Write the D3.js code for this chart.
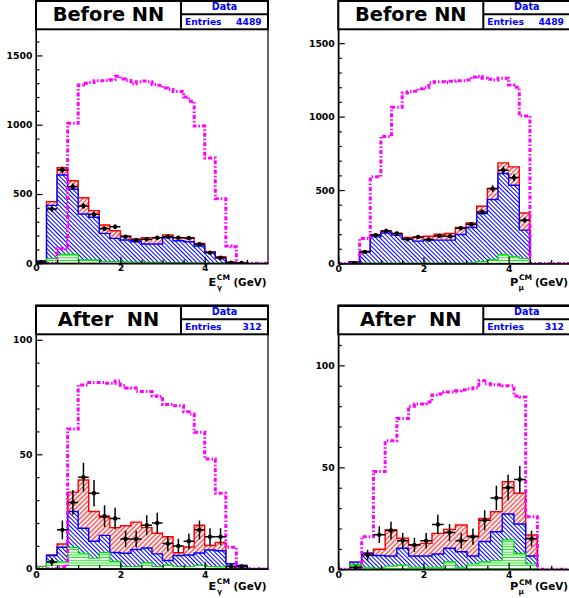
<!DOCTYPE html>
<html><head><meta charset="utf-8">
<script src="https://cdn.jsdelivr.net/npm/d3@7"></script>
<style>
body{margin:0;background:#fff;}
svg{display:block;}
text{font-family:"DejaVu Sans",sans-serif;font-weight:bold;}
</style></head><body>
<svg id="c" width="569" height="598"></svg>
<script>
// ---------------- DATA ----------------
const histBinWidths = [0.25, 0.25, 0.25, 0.275];
const magentaBinWidths = [0.125, 0.125, 0.125, 0.1375];
const titles = ["Before NN", "Before NN", "After\u00A0 NN", "After\u00A0 NN"];
const statsLabel = "Data";
const entries = [4489, 4489, 312, 312];
const axisVar = [["E", "\u03B3"], ["P", "\u03BC"], ["E", "\u03B3"], ["P", "\u03BC"]];
const xTicks = [0, 2, 4];
const xMinor = [0.5, 1, 1.5, 2.5, 3, 3.5, 4.5, 5];
const yTicksBefore = [0, 500, 1000, 1500];
const yTicksAfter = [0, 50, 100];

// Panel 1: E_gamma, before NN (0.25 GeV bins)
const egBeforeRed   = [17, 445, 690, 596, 473, 380, 276, 235, 197, 175, 185, 185, 204, 185, 185, 144, 84, 48, 8, 0, 0, 0];
const egBeforeBlue  = [15, 418, 637, 534, 356, 332, 216, 180, 168, 156, 139, 139, 185, 163, 156, 125, 77, 40, 5, 0, 0, 0];
const egBeforeGreen = [0, 36, 65, 65, 24, 24, 13, 13, 10, 8, 6, 6, 5, 5, 4, 3, 2, 1, 0, 0, 0, 0];
const egBeforeData  = [10, 392, 673, 553, 413, 353, 250, 264, 192, 168, 173, 185, 192, 185, 183, 137, 77, 40, 5, 2, 0, 0];
const egBeforeMagenta = [0, 0, 0, 0, 105, 105, 1010, 1010, 1286, 1300, 1305, 1318, 1318, 1320, 1325, 1350,
  1330, 1320, 1295, 1310, 1315, 1310, 1290, 1285, 1265, 1255, 1240, 1240, 1200, 1170, 990, 990,
  760, 760, 465, 465, 125, 120, 0, 0, 0, 0, 0, 0];

// Panel 2: P_mu, before NN (0.25 GeV bins)
const pmBeforeRed   = [0, 12, 83, 197, 222, 204, 177, 177, 186, 199, 204, 245, 276, 390, 510, 685, 658, 344, 0, 0, 0, 0];
const pmBeforeBlue  = [0, 11, 79, 181, 208, 193, 165, 152, 159, 159, 159, 197, 245, 340, 436, 613, 533, 227, 0, 0, 0, 0];
const pmBeforeGreen = [0, 0, 2, 3, 3, 3, 3, 3, 3, 3, 3, 3, 5, 13, 27, 61, 45, 34, 0, 0, 0, 0];
const pmBeforeData  = [0, 2, 79, 193, 222, 204, 165, 181, 163, 188, 186, 240, 267, 351, 510, 635, 585, 295, 0, 0, 0, 0];
const pmBeforeMagenta = [0, 0, 0, 0, 170, 170, 590, 590, 865, 865, 1063, 1063, 1160, 1170, 1172, 1190,
  1198, 1230, 1238, 1238, 1232, 1240, 1245, 1245, 1250, 1270, 1275, 1262, 1255, 1250, 1262, 1262,
  1215, 1200, 1005, 1005, 0, 0, 0, 0, 0, 0, 0, 0];

// Panel 3: E_gamma, after NN (0.25 GeV bins)
const egAfterRed   = [1, 6, 10.8, 33.5, 38.8, 25, 22.4, 18, 18.8, 20.4, 18, 15.5, 14, 7, 9.5, 19, 10.2, 11.5, 2.2, 1.5, 0, 0];
const egAfterBlue  = [0, 5.8, 9.4, 25, 17.7, 12, 14.6, 7.1, 6.8, 8.4, 9.1, 6.5, 3.6, 5.8, 6, 6.9, 8.2, 7.9, 2.2, 1.5, 0, 0];
const egAfterGreen = [1, 3, 3, 9.4, 6.8, 4.6, 7.1, 3.2, 1, 1, 2.6, 1, 1.6, 1, 1, 1.5, 1, 0.8, 0, 0, 0, 0];
const egAfterData  = [0, 3, 17, 29, 40, 33, 23, 22, 13, 13, 19, 20, 11, 10, 12, 17, 14, 14, 1, 1, 0, 0];
const egAfterMagenta = [0, 0, 0, 0, 1, 1, 61, 61, 80.3, 80.3, 81.4, 81.4, 81.4, 81, 81, 82,
  80, 79, 78.9, 77.4, 77.4, 77.4, 75.5, 75.2, 71.8, 71.8, 71.2, 71.2, 68.6, 67.6, 59.6, 59.6,
  48, 48, 33, 33, 9.4, 9.4, 0, 0, 0, 0, 0, 0];

// Panel 4: P_mu, after NN (0.275 GeV bins)
const pmAfterRed   = [0, 3.5, 8, 9.8, 19.3, 15.2, 11.9, 12.7, 17.6, 19.6, 21.7, 16.3, 24.9, 28.2, 43, 37.3, 16.8, 0, 0, 0];
const pmAfterBlue  = [0, 3.5, 7.8, 6.8, 6.5, 10.3, 6.5, 6.5, 7.5, 10.3, 8.6, 6.5, 13.6, 18.4, 27.1, 22.2, 6.5, 0, 0, 0];
const pmAfterGreen = [0, 2.4, 1, 0.5, 1.6, 2, 1, 1, 1, 3.6, 1, 2.6, 3.6, 4.2, 14.4, 7.8, 2.6, 0, 0, 0];
const pmAfterData  = [0, 1, 7, 17, 19, 14, 12, 14, 22, 18, 14, 16, 24, 35, 40, 44, 15, 0, 0, 0];
const pmAfterMagenta = [0, 0, 0, 0, 16, 16, 48, 48, 63, 63, 74, 74, 80, 81, 81, 82,
  85.5, 86, 87, 87, 87.5, 88, 88.5, 89, 92.5, 91, 90.5, 90.5, 90, 90, 85, 84.5,
  25.8, 25.8, 0, 0, 0, 0, 0, 0];

// ---------------- LAYOUT ----------------
const layout = [
  {x0: 36, x1: 268, yt: 0, yb: 263.3, ymax: 1900, minorStep: 100, titleTop: 0, lblPad: 1.5, titleDy: 22.5},
  {x0: 338.3, x1: 572.5, yt: 0, yb: 263.5, ymax: 1794, minorStep: 100, titleTop: 0, lblPad: 1.5, titleDy: 22.5},
  {x0: 36, x1: 268, yt: 305, yb: 568.8, ymax: 115.2, minorStep: 10, titleTop: 305, lblPad: 2.5, titleDy: 21},
  {x0: 338.3, x1: 572.5, yt: 305, yb: 569.3, ymax: 129.6, minorStep: 10, titleTop: 305, lblPad: 2.5, titleDy: 21}
];
const panelData = [
  {red: egBeforeRed, blue: egBeforeBlue, green: egBeforeGreen, data: egBeforeData, mag: egBeforeMagenta, yTicks: yTicksBefore},
  {red: pmBeforeRed, blue: pmBeforeBlue, green: pmBeforeGreen, data: pmBeforeData, mag: pmBeforeMagenta, yTicks: yTicksBefore},
  {red: egAfterRed, blue: egAfterBlue, green: egAfterGreen, data: egAfterData, mag: egAfterMagenta, yTicks: yTicksAfter},
  {red: pmAfterRed, blue: pmAfterBlue, green: pmAfterGreen, data: pmAfterData, mag: pmAfterMagenta, yTicks: yTicksAfter}
];

const svg = d3.select("#c");
const defs = svg.append("defs");
function hatch(id, color, size, angle, sw) {
  const p = defs.append("pattern").attr("id", id).attr("patternUnits", "userSpaceOnUse")
    .attr("width", size).attr("height", size).attr("patternTransform", `rotate(${angle})`);
  p.append("line").attr("x1", size / 2).attr("y1", -1).attr("x2", size / 2).attr("y2", size + 1)
    .attr("stroke", color).attr("stroke-width", sw);
}
hatch("hRed", "#ff0000", 3.4, 45, 1);
hatch("hBlue", "#0000ff", 3.0, -45, 1);
hatch("hGreen", "#00ee00", 2.7, 90, 0.9);

function stepPts(vals, w) {
  const first = vals.findIndex(v => v > 0);
  let last = vals.length - 1;
  while (last >= 0 && !(vals[last] > 0)) last--;
  const pts = [[first * w, 0]];
  for (let i = first; i <= last; i++) { pts.push([i * w, vals[i]]); pts.push([(i + 1) * w, vals[i]]); }
  pts.push([(last + 1) * w, 0]);
  return pts;
}
function fullStepPts(vals, w) {
  const pts = [];
  vals.forEach((v, i) => { pts.push([i * w, v]); pts.push([(i + 1) * w, v]); });
  return pts;
}
const fmt = d3.format("d");

layout.forEach((L, k) => {
  const D = panelData[k];
  const w = histBinWidths[k], mw = magentaBinWidths[k];
  const x = d3.scaleLinear().domain([0, 5.5]).range([L.x0, L.x1]);
  const y = d3.scaleLinear().domain([0, L.ymax]).range([L.yb, L.yt]);
  const line = d3.line().x(d => x(d[0])).y(d => y(d[1]));
  const g = svg.append("g");
  defs.append("clipPath").attr("id", "clip" + k).append("rect")
    .attr("x", L.x0).attr("y", L.yt).attr("width", L.x1 - L.x0).attr("height", L.yb - L.yt);
  const plot = g.append("g").attr("clip-path", `url(#clip${k})`);

  [[D.red, "hRed", "#ff0000", 1.4], [D.blue, "hBlue", "#0000ff", 1.4], [D.green, "hGreen", "#00dd00", 1.2]]
    .forEach(([vals, pat, col, sw]) => {
      const pts = stepPts(vals, w);
      const dstr = line(pts) + "Z";
      plot.append("path").attr("d", dstr).attr("fill", "#fff");
      plot.append("path").attr("d", dstr).attr("fill", `url(#${pat})`);
      plot.append("path").attr("d", line(pts)).attr("fill", "none").attr("stroke", col).attr("stroke-width", sw);
    });

  plot.append("path").attr("d", line(fullStepPts(D.mag, mw))).attr("fill", "none")
    .attr("stroke", "#ff00ff").attr("stroke-width", 3).attr("stroke-dasharray", "4,2,1.5,2");

  const pts = D.data.map((v, i) => ({v, i})).filter(d => d.v > 0);
  const dp = plot.append("g").attr("stroke", "#000").attr("stroke-width", 1.5);
  dp.selectAll("line.h").data(pts).join("line")
    .attr("x1", d => x(d.i * w)).attr("x2", d => x((d.i + 1) * w))
    .attr("y1", d => y(d.v)).attr("y2", d => y(d.v));
  dp.selectAll("line.v").data(pts).join("line")
    .attr("x1", d => x((d.i + 0.5) * w)).attr("x2", d => x((d.i + 0.5) * w))
    .attr("y1", d => y(d.v - Math.sqrt(d.v))).attr("y2", d => y(d.v + Math.sqrt(d.v)));
  plot.append("g").selectAll("circle").data(pts).join("circle")
    .attr("cx", d => x((d.i + 0.5) * w)).attr("cy", d => y(d.v)).attr("r", 2.2).attr("fill", "#000");

  // frame
  g.append("rect").attr("x", L.x0).attr("y", L.yt).attr("width", L.x1 - L.x0).attr("height", L.yb - L.yt)
    .attr("fill", "none").attr("stroke", "#000").attr("stroke-width", 1.2);

  // y axis
  const yMinor = d3.range(0, L.ymax, L.minorStep).filter(v => !D.yTicks.includes(v));
  const ya = g.append("g").attr("transform", `translate(${L.x0},0)`)
    .call(d3.axisLeft(y).tickValues(D.yTicks).tickFormat(fmt).tickSizeInner(-6.5).tickSizeOuter(0).tickPadding(3.5));
  const yam = g.append("g").attr("transform", `translate(${L.x0},0)`)
    .call(d3.axisLeft(y).tickValues(yMinor).tickSizeInner(-3.5).tickSizeOuter(0).tickFormat(""));
  [ya, yam].forEach(a => { a.select(".domain").attr("stroke", "#000"); a.selectAll("line").attr("stroke", "#000").attr("stroke-width", 1.2); });
  ya.selectAll("text").attr("font-family", "DejaVu Sans").attr("font-weight", "bold").attr("font-size", 9.3).attr("fill", "#000");

  // x axis
  const xa = g.append("g").attr("transform", `translate(0,${L.yb})`)
    .call(d3.axisBottom(x).tickValues(xTicks).tickFormat(fmt).tickSizeInner(-6.5).tickSizeOuter(0).tickPadding(L.lblPad));
  const xam = g.append("g").attr("transform", `translate(0,${L.yb})`)
    .call(d3.axisBottom(x).tickValues(xMinor).tickSizeInner(-3.5).tickSizeOuter(0).tickFormat(""));
  [xa, xam].forEach(a => { a.select(".domain").attr("stroke", "#000"); a.selectAll("line").attr("stroke", "#000").attr("stroke-width", 1.2); });
  xa.selectAll("text").attr("font-family", "DejaVu Sans").attr("font-weight", "bold").attr("font-size", 9.3).attr("fill", "#000");

  // x axis title: one text element with tspans (sub/superscript after the letter)
  const tb = L.yb + L.titleDy;
  const tEnd = Math.min(L.x1 - 1.5, 568);
  const tx = tEnd - 58;
  const t = g.append("text").attr("x", tx).attr("y", tb).attr("font-size", 11.3);
  t.append("tspan").text(axisVar[k][0]);
  t.append("tspan").attr("dx", 0.6).attr("dy", -5.8).attr("font-size", 7.6).text("CM");
  t.append("tspan").attr("x", tx + 8.4).attr("dy", 9.8).attr("font-size", 7.3).text(axisVar[k][1]);
  t.append("tspan").attr("x", tEnd).attr("dy", -4).attr("text-anchor", "end").attr("font-size", 10.4).text("(GeV)");

  // title box + stats box
  const T = L.titleTop, bh = 29.3, split = L.x0 + 145;
  g.append("rect").attr("x", L.x0).attr("y", T + 1).attr("width", L.x1 - L.x0).attr("height", bh - 1)
    .attr("fill", "#fff").attr("stroke", "#000").attr("stroke-width", 2);
  g.append("line").attr("x1", split).attr("x2", split).attr("y1", T).attr("y2", T + bh).attr("stroke", "#000").attr("stroke-width", 2);
  g.append("line").attr("x1", split).attr("x2", L.x1).attr("y1", T + 14.3).attr("y2", T + 14.3).attr("stroke", "#000").attr("stroke-width", 2);
  g.append("text").attr("x", (L.x0 + split) / 2).attr("y", T + 20.8).attr("text-anchor", "middle")
    .attr("font-size", 19.4).attr("fill", "#000").text(titles[k]);
  g.append("text").attr("x", split + 43.5).attr("y", T + 10.2).attr("text-anchor", "middle")
    .attr("font-size", 9.6).attr("fill", "#0000ff").text(statsLabel);
  g.append("text").attr("x", split + 4).attr("y", T + 24.8)
    .attr("font-size", 9.2).attr("fill", "#0000ff").text("Entries");
  g.append("text").attr("x", split + 80.7).attr("y", T + 24.8).attr("text-anchor", "end")
    .attr("font-size", 9.2).attr("fill", "#0000ff").text(entries[k]);
});
</script>
</body></html>
